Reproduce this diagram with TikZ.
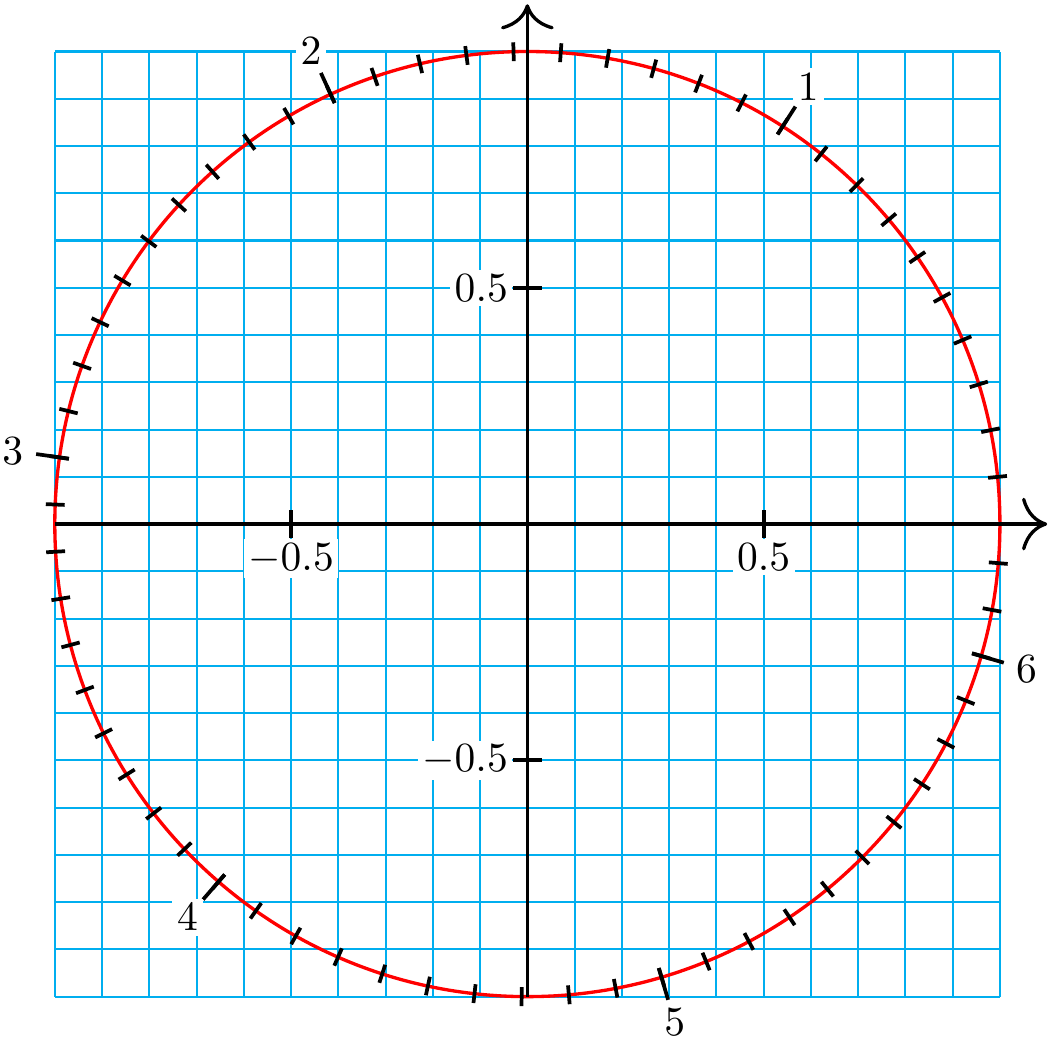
\documentclass[tikz,border=0pt]{standalone}
\usetikzlibrary{arrows.meta}
\definecolor{gridcyan}{RGB}{0,174,239}
\begin{document}
\begin{tikzpicture}[x=4cm,y=4cm,
  gridline/.style={draw=gridcyan, line width=0.5pt},
  curve/.style={draw=red, line width=0.8pt},
  axis/.style={draw=black, line width=0.8pt, -{To[scale=1.8]}},
  tickmark/.style={draw=black, line width=0.9pt},
  axlabel/.style={fill=white, inner sep=1.1pt},
  anglabel/.style={fill=white, inner sep=1.2pt}]
\useasboundingbox (-1.116,-1.088) rectangle (1.106,1.109);
% grid
\foreach \i in {-10,...,10} {
  \draw[gridline] (\i/10,-1) -- (\i/10,1);
  \draw[gridline] (-1,\i/10) -- (1,\i/10);
}
% unit circle
\draw[curve] (0,0) circle[radius=1];
% axes
\coordinate (xs) at (-1,0);
\coordinate (xe) at (1.1,0);
\coordinate (ys) at (0,-1);
\coordinate (ye) at (0,1.1);
\draw[axis] (xs) -- (xe);
\draw[axis] (ys) -- (ye);
% axis ticks and labels
\foreach \v/\t/\n in {0.5/0.5/p, -0.5/-0.5/m} {
  \draw[tickmark] (\v,-0.03) -- (\v,0.03);
  \node[axlabel, anchor=north] (xl\n) at (\v,-0.03) {$\t$};
  \draw[tickmark] (-0.03,\v) -- (0.03,\v);
  \node[axlabel, anchor=east] (yl\n) at (-0.03,\v) {$\t$};
}
% ticks on the circle every 0.1 rad
\foreach \k in {0,...,62} {
  \pgfmathsetmacro\a{\k*0.1*180/pi}
  \draw[tickmark] (\a:0.98) -- (\a:1.02);
}
% long ticks and labels at integer radians
\foreach \k in {1,...,6} {
  \pgfmathsetmacro\a{\k*180/pi}
  \draw[tickmark] (\a:0.98) -- (\a:1.05);
  \node[anglabel] (lab\k) at (\a:1.1) {$\k$};
}
\end{tikzpicture}
\end{document}
